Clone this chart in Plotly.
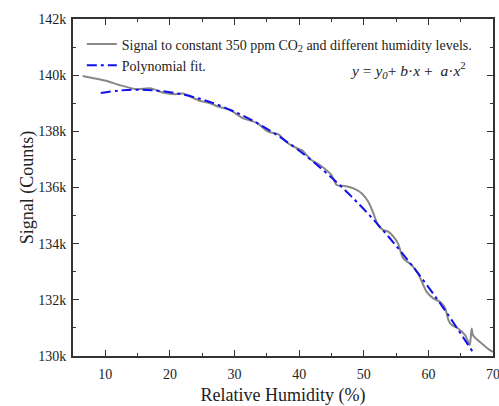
import plotly.graph_objects as go

# Measured signal (gray)
rh_signal = [6.5, 8.0, 10.1, 12.2, 14.8, 17.1, 18.9, 20.9, 22.0, 24.6, 26.2, 27.2, 29.3,
             31.35, 33.4, 35.2, 36.8, 38.1, 39.4, 40.4, 41.9, 43.2, 45.0, 45.8, 47.1, 48.4,
             49.7, 50.7, 51.5, 52.2, 53.0, 53.8, 54.8, 55.3, 56.1, 57.4, 58.4, 59.2, 59.7,
             60.75, 61.8, 62.6, 63.1, 63.6, 64.6, 65.7, 66.4, 66.7, 66.9, 69.5, 70.0]
signal = [139970, 139900, 139800, 139650, 139500, 139530, 139380, 139320, 139350, 139090,
          139000, 138900, 138760, 138460, 138310, 137990, 137890, 137600, 137430, 137330,
          136980, 136800, 136440, 136090, 136050, 135970, 135790, 135490, 135080, 134660,
          134490, 134430, 134190, 134010, 133480, 133240, 132940, 132530, 132290, 132050,
          131930, 131700, 131280, 131100, 130980, 130740, 130390, 130980, 130740, 130210,
          130150]

# Polynomial fit (blue dash-dot)
rh_fit = [9.3, 12, 15, 18, 21, 24, 27, 30, 33, 36, 39, 42, 45, 48, 51, 54, 57, 60, 63, 66.9]
fit = [139367, 139449, 139480, 139449, 139355, 139199, 138980, 138699, 138356, 137950,
       137481, 136950, 136357, 135701, 134983, 134202, 133359, 132453, 131485, 130133]

y_tickvals = [130000, 132000, 134000, 136000, 138000, 140000, 142000]
y_ticktext = ["130k", "132k", "134k", "136k", "138k", "140k", "142k"]
x_tickvals = [10, 20, 30, 40, 50, 60, 70]

FONT = "Liberation Serif, Times New Roman, serif"
TXT = "#222222"

fig = go.Figure()
fig.add_trace(go.Scatter(
    x=rh_signal, y=signal, mode="lines",
    line=dict(color="#878787", width=2, shape="spline", smoothing=0.6),
    name="Signal to constant 350 ppm CO<sub>2</sub> and different humidity levels."))
fig.add_trace(go.Scatter(
    x=rh_fit, y=fit, mode="lines",
    line=dict(color="#1010ee", width=2, dash="10px,4px,3px,4px", shape="spline"),
    name="Polynomial fit."))

axis_common = dict(
    showline=True, linecolor="#333333", linewidth=2, mirror="allticks",
    ticks="inside", ticklen=6, tickwidth=1.3, tickcolor="#333333",
    showgrid=False, zeroline=False, ticklabeloverflow="allow",
    tickfont=dict(family=FONT, size=14, color=TXT),
)

fig.update_xaxes(range=[5, 70], tickvals=x_tickvals, ticklabelstandoff=4,
                 minor=dict(dtick=5, ticks="inside", ticklen=3, tickcolor="#333333", tick0=5),
                 title=dict(text="Relative Humidity (%)", font=dict(family=FONT, size=18, color=TXT), standoff=8),
                 **axis_common)
fig.update_yaxes(range=[130000, 142000], tickvals=y_tickvals, ticktext=y_ticktext, ticklabelstandoff=2,
                 minor=dict(dtick=1000, ticks="inside", ticklen=3, tickcolor="#333333", tick0=130000),
                 title=dict(text="Signal (Counts)", font=dict(family=FONT, size=18, color=TXT), standoff=0),
                 **axis_common)

fig.add_annotation(
    x=0.94, y=0.849, xref="paper", yref="paper", xanchor="right", yanchor="middle",
    text="<i>y</i> = <i>y</i><sub><i>0</i></sub>+ <i>b</i>·<i>x</i> +  <i>a</i>·<i>x</i><sup>2</sup>",
    showarrow=False, font=dict(family=FONT, size=15.5, color=TXT))

fig.update_layout(
    width=499, height=406,
    margin=dict(l=73, r=6, t=19, b=50, autoexpand=False),
    plot_bgcolor="white", paper_bgcolor="white",
    font=dict(family=FONT, size=14, color=TXT),
    legend=dict(x=0.021, y=0.972, xanchor="left", yanchor="top",
                bgcolor="rgba(0,0,0,0)", font=dict(family=FONT, size=14, color=TXT),
                tracegroupgap=0, itemwidth=30),
    showlegend=True,
)

fig.write_html("out.html", config={"displayModeBar": False},
               post_script="document.body.style.margin='0';document.body.style.overflow='hidden';")
